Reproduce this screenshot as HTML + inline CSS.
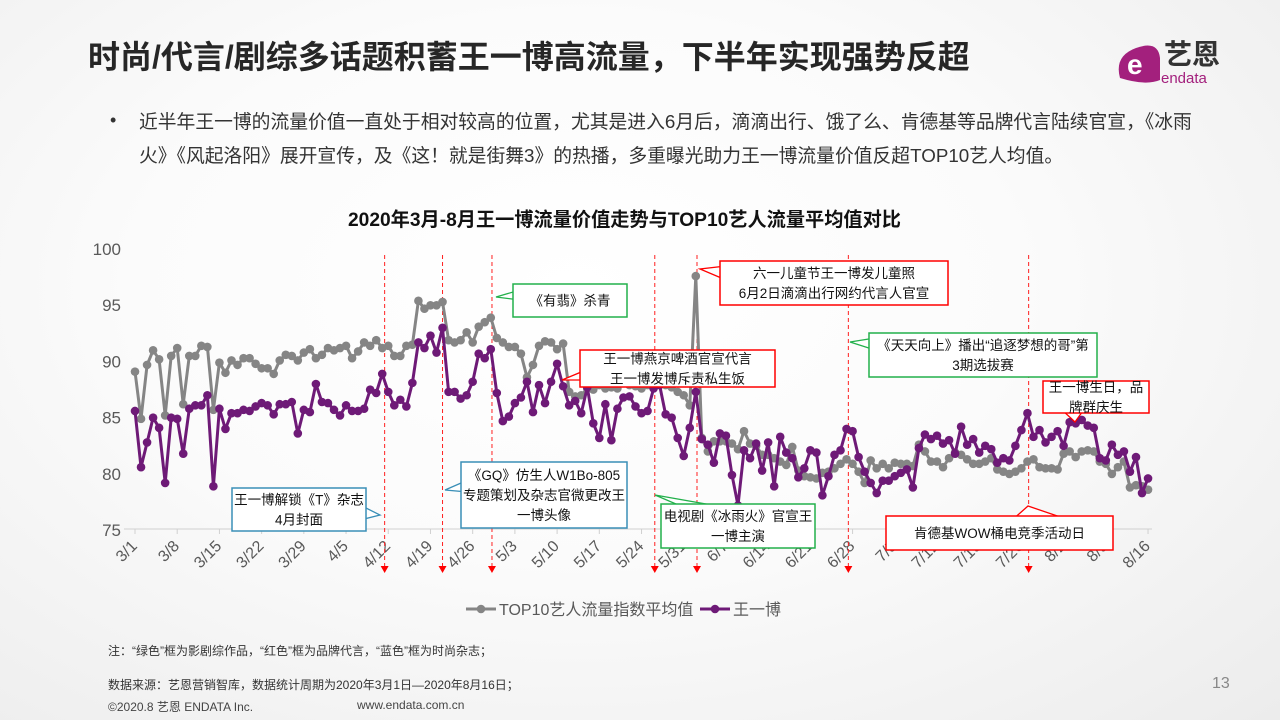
<!DOCTYPE html>
<html><head><meta charset="utf-8">
<style>
body{margin:0;width:1280px;height:720px;overflow:hidden;font-family:"Liberation Sans","Noto Sans CJK SC",sans-serif;}
#bg{position:absolute;left:0;top:0;width:1280px;height:720px;background:radial-gradient(ellipse at 45% 40%,#ffffff 0%,#fbfbfb 45%,#ececec 100%);}
.t{position:absolute;white-space:nowrap;}
</style></head>
<body>
<div id="bg"></div>
<div class="t" style="left:88px;top:32px;font-size:32px;font-weight:bold;color:#262626;">时尚/代言/剧综多话题积蓄王一博高流量，下半年实现强势反超</div>
<div style="position:absolute;left:1116px;top:36px;width:134px;height:52px;">
 <svg width="134" height="52"><path d="M4 42 Q-2 20 20 12 Q42 4 44 22 L44 44 Q30 50 4 42Z" fill="#a3207d"/><text x="11" y="38" font-size="28" font-weight="bold" fill="#fff" font-family="Liberation Sans,sans-serif">e</text>
 <text x="48" y="28" font-size="28" font-weight="bold" fill="#333" font-family="Liberation Sans,Noto Sans CJK SC,sans-serif">艺恩</text>
 <text x="45" y="47" font-size="15" fill="#a3207d" font-family="Liberation Sans,sans-serif">endata</text></svg>
</div>
<div class="t" style="left:110px;top:110px;font-size:18px;color:#333;">•</div>
<div class="t" style="left:139px;top:107px;font-size:18.8px;color:#333;">近半年王一博的流量价值一直处于相对较高的位置，尤其是进入6月后，滴滴出行、饿了么、肯德基等品牌代言陆续官宣，《冰雨</div>
<div class="t" style="left:139px;top:141px;font-size:18.8px;color:#333;">火》《风起洛阳》展开宣传，及《这！就是街舞3》的热播，多重曝光助力王一博流量价值反超TOP10艺人均值。</div>
<div class="t" style="left:348px;top:204px;font-size:19.2px;font-weight:bold;color:#111;">2020年3月-8月王一博流量价值走势与TOP10艺人流量平均值对比</div>
<svg id="chart" width="1280" height="720" style="position:absolute;left:0;top:0;"></svg>
<div class="t" style="left:108px;top:642px;font-size:12px;color:#333;">注：“绿色”框为影剧综作品，“红色”框为品牌代言，“蓝色”框为时尚杂志；</div>
<div class="t" style="left:108px;top:676px;font-size:12px;color:#333;">数据来源：艺恩营销智库，数据统计周期为2020年3月1日—2020年8月16日；</div>
<div class="t" style="left:108px;top:698px;font-size:12px;color:#444;">©2020.8 艺恩 ENDATA Inc.</div>
<div class="t" style="left:357px;top:698px;font-size:12px;color:#444;">www.endata.com.cn</div>
<div class="t" style="left:1212px;top:675px;font-size:16px;color:#888;">13</div>
<script>
const xLabels=["3/1","3/8","3/15","3/22","3/29","4/5","4/12","4/19","4/26","5/3","5/10","5/17","5/24","5/31","6/7","6/14","6/21","6/28","7/5","7/12","7/19","7/26","8/2","8/9","8/16"];
const yTicks=[75,80,85,90,95,100];
const top10=[89,84.8,89.6,90.9,90.1,85.1,90.4,91.1,86.1,90.4,90.4,91.3,91.2,85.6,
89.8,88.9,90,89.6,90.2,90.2,89.7,89.3,89.3,88.8,90,90.5,90.4,90,90.7,91,90.2,90.5,91.1,90.9,91.1,91.3,90.2,90.8,91.6,91.3,91.8,91.1,91.3,90.4,90.4,91.3,91.4,95.3,94.6,94.9,94.9,95.2,
91.8,91.6,91.8,92.5,91.6,93,93.4,93.8,92,91.6,91.2,91.2,90.6,88.5,89.6,91.3,91.7,91.6,91,91.5,87.2,86.8,86.9,87.5,
87.4,87.8,87.5,87.6,87.5,88,87.8,87.7,87.5,87.8,88,88.2,87.8,87.6,87.2,86.9,86,97.5,
83.1,81.9,82.8,82.8,82.8,82.6,82.1,83.7,82.6,82.4,81.6,81.6,81.3,81,80.7,82.3,
80.2,79.7,79.6,79.5,80,80.1,80.4,80.8,81.2,80.8,80.1,79.1,81.1,80.4,80.8,80.4,80.9,80.8,80.8,80.6,82.5,81.9,81,81,80.5,81.3,81.8,81.6,81.2,80.8,80.8,81,81.3,80.3,80.1,79.9,80.1,80.4,81,81.2,80.5,80.4,80.4,80.3,81.7,81.9,81.4,81.9,82,81.9,81,80.8,79.9,80.5,81,78.7,78.9,78.8,78.5];
const wangyibo=[85.5,80.5,82.7,84.9,84,79.1,84.9,84.8,81.7,85.7,86,86,86.9,78.8,
85.7,83.9,85.3,85.3,85.6,85.5,85.9,86.2,86,85.2,86.1,86.1,86.3,83.5,85.6,85.4,87.9,86.3,86.2,85.6,85.1,86,85.5,85.5,85.7,87.4,87.1,88.8,87.2,86,86.5,85.9,88,91.6,91.1,92.2,90.7,92.9,
87.2,87.2,86.6,86.9,88.1,90.6,90.2,91,87.1,84.6,85,86.2,86.7,88.1,85.4,87.8,86.2,88.1,89.7,87.7,86,86.4,85.3,87.6,84.4,83.1,86.1,82.9,85.7,86.7,86.8,85.9,85.3,85.5,87.5,87.8,85.2,84.9,83.1,81.5,84,87.2,
83,82.5,80.9,83.5,83.3,79.8,77.1,82,81.3,82.6,80.2,82.7,78.8,83.2,81.8,81.3,
79.6,80.4,82,81.8,78,79.7,81.6,82,83.9,83.7,81.4,80.1,79.1,78.2,79.3,79.3,79.7,80,80.3,78.7,82.2,83.4,83,83.3,82.6,82.9,81.7,84.1,82.5,83,81.8,82.4,82.1,80.9,81.3,81.1,82.4,83.8,85.3,83.2,83.8,82.7,83.2,83.7,82.4,84.5,84.4,84.7,84.2,84,81.3,81.1,82.5,81.6,81.9,80.1,81.4,78.2,79.5];
const eventDays=[41.4,51,59.2,86.2,93.2,118.3,148.2];

const NS="http://www.w3.org/2000/svg";
const svg=document.getElementById('chart');
const X0=135,DX=6.03,Y0=529,YK=11.24;
const xs=i=>X0+i*DX, ys=v=>Y0-(v-75)*YK;
function mk(tag,attrs,parent){const e=document.createElementNS(NS,tag);for(const k in attrs)e.setAttribute(k,attrs[k]);(parent||svg).appendChild(e);return e;}

let ax=mk('line',{x1:124,y1:Y0,x2:1152,y2:Y0,stroke:'#d0d0d0','stroke-width':1});


yTicks.forEach(v=>{let t=mk('text',{x:121,y:ys(v)+7,'text-anchor':'end','font-size':17,fill:'#595959','font-family':'Liberation Sans,sans-serif'});t.textContent=v;

});
xLabels.forEach((l,k)=>{const x=xs(k*7);
let tk=mk('line',{x1:x,y1:Y0,x2:x,y2:Y0+5,stroke:'#d0d0d0'});


let t=mk('text',{x:x+3,y:Y0+18,'text-anchor':'end','font-size':16,fill:'#595959','font-family':'Liberation Sans,sans-serif',transform:`rotate(-45 ${x+3} ${Y0+18})`});t.textContent=l;

});
eventDays.forEach(d=>{const x=xs(d);
let l=mk('line',{x1:x,y1:255,x2:x,y2:566,stroke:'#ff2020','stroke-width':1,'stroke-dasharray':'4 3'});


let a=mk('path',{d:`M${x-4} 566 L${x+4} 566 L${x} 573Z`,fill:'#ff0000'});

});
function series(vals,color,name){
 const pts=vals.map((v,i)=>xs(i).toFixed(1)+','+ys(v).toFixed(1)).join(' ');
 let pl=mk('polyline',{points:pts,fill:'none',stroke:color,'stroke-width':3,'stroke-linejoin':'round'});
 
 
 vals.forEach((v,i)=>{let c=mk('circle',{cx:xs(i),cy:ys(v),r:4.3,fill:color});
 
 });
}
series(top10,'#858585','top10-average');
series(wangyibo,'#6e1a77','wang-yibo');

function callout(name,x,y,w,h,color,lines,tail){
 const g=mk('g',{});
 
 
 mk('polygon',{points:tail,fill:'#fff',stroke:color,'stroke-width':1.3},g);
 mk('rect',{x,y,width:w,height:h,fill:'#fff',stroke:color,'stroke-width':1.5},g);
 lines.forEach((s,i)=>{const t=mk('text',{x:x+w/2,y:y+h/2+5-(lines.length-1)*10+i*20,'text-anchor':'middle','font-size':13.5,fill:'#111','font-family':'Liberation Sans,Noto Sans CJK SC,sans-serif'},g);t.textContent=s;});
}
callout('callout-t-magazine',232,488,134,43,'#3a8fb7',['王一博解锁《T》杂志','4月封面'],'360,505 380,515 360,520');
callout('callout-gq',461,462,166,66,'#3a8fb7',['《GQ》仿生人W1Bo-805','专题策划及杂志官微更改王','一博头像'],'468,480 445,490 468,492');
callout('callout-youfei',513,284,114,33,'#22b04b',['《有翡》杀青'],'520,290 496,297 520,300');
callout('callout-yanjing',580,350,195,37,'#ff0000',['王一博燕京啤酒官宣代言','王一博发博斥责私生饭'],'586,370 562,380 586,380');
callout('callout-childrens-day',720,261,228,44,'#ff0000',['六一儿童节王一博发儿童照','6月2日滴滴出行网约代言人官宣'],'726,266 700,269 726,280');
callout('callout-bingyuhuo',661,504,154,44,'#22b04b',['电视剧《冰雨火》官宣王','一博主演'],'690,510 655,495 740,510');
callout('callout-tiantian',869,333,228,44,'#22b04b',['《天天向上》播出“追逐梦想的哥”第','3期选拔赛'],'875,338 850,342 875,350');
callout('callout-birthday',1043,381,106,32,'#ff0000',['王一博生日，品','牌群庆生'],'1060,408 1075,422 1085,408');
callout('callout-kfc',886,516,227,34,'#ff0000',['肯德基WOW桶电竞季活动日'],'1010,522 1028,506 1075,522');

const lg=mk('g',{});


mk('line',{x1:466,y1:609,x2:496,y2:609,stroke:'#858585','stroke-width':3},lg);
mk('circle',{cx:481,cy:609,r:4.3,fill:'#858585'},lg);
let l1=mk('text',{x:499,y:615,'font-size':16,fill:'#595959','font-family':'Liberation Sans,Noto Sans CJK SC,sans-serif'},lg);l1.textContent='TOP10艺人流量指数平均值';
mk('line',{x1:700,y1:609,x2:730,y2:609,stroke:'#6e1a77','stroke-width':3},lg);
mk('circle',{cx:715,cy:609,r:4.3,fill:'#6e1a77'},lg);
let l2=mk('text',{x:733,y:615,'font-size':16,fill:'#595959','font-family':'Liberation Sans,Noto Sans CJK SC,sans-serif'},lg);l2.textContent='王一博';
</script>
</body></html>
